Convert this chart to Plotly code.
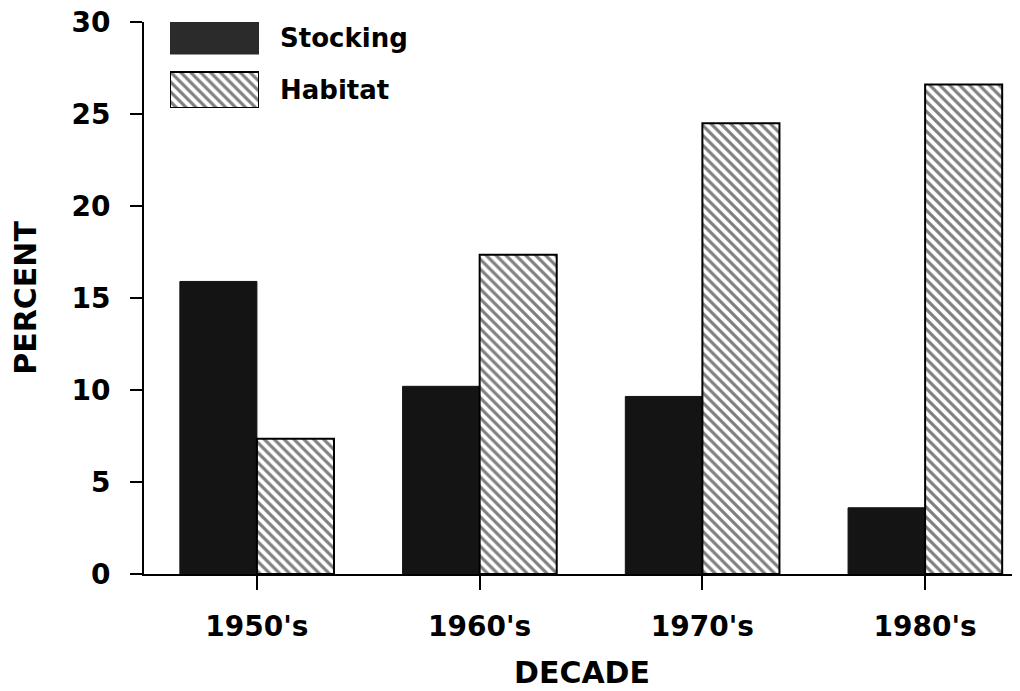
import plotly.graph_objects as go

decades = ["1950's", "1960's", "1970's", "1980's"]
stocking = [15.9, 10.2, 9.65, 3.6]
habitat = [7.35, 17.35, 24.5, 26.6]
series_names = ["Stocking", "Habitat"]
y_ticks = [0, 5, 10, 15, 20, 25, 30]

FONT = "DejaVu Sans"
DARK = "#141414"
HATCH = dict(shape="\\", fgcolor="black", bgcolor="white", size=7, solidity=0.45)

fig = go.Figure()

fig.add_trace(go.Bar(
    x=decades, y=stocking, name=series_names[0],
    marker=dict(color=DARK, line=dict(color=DARK, width=1)),
    showlegend=False,
))
fig.add_trace(go.Bar(
    x=decades, y=habitat, name=series_names[1],
    marker=dict(color="white", line=dict(color="black", width=2), pattern=HATCH),
    showlegend=False,
))

# legend swatches drawn on a small inset axis, labelled by the series names
fig.add_trace(go.Bar(
    y=[series_names[0]], x=[1], orientation="h", width=0.615,
    marker=dict(color="#2b2b2b", line=dict(color="#2b2b2b", width=1)),
    xaxis="x2", yaxis="y2", showlegend=False, hoverinfo="skip",
))
fig.add_trace(go.Bar(
    y=[series_names[1]], x=[1], orientation="h", width=0.692,
    marker=dict(color="white", line=dict(color="black", width=2), pattern=HATCH),
    xaxis="x2", yaxis="y2", showlegend=False, hoverinfo="skip",
))

# page body has an 8px margin; compensate so the plot sits where the reference does
OFF = 8
W, H = 1020 - OFF, 691 - OFF
PL, PR, PT, PB = 144, 1020, 22, 574          # plot-area edges in window pixels
L, T = PL - OFF, PT - OFF
R = W - (PR - OFF)
B = H - (PB - OFF)
pw = PR - PL
ph = PB - PT

def px_x(p):
    return (p - PL) / pw

def px_y(p):
    return (PB - p) / ph

fig.update_layout(
    width=W, height=H,
    margin=dict(l=L, r=R, t=T, b=B, autoexpand=False),
    paper_bgcolor="white", plot_bgcolor="white",
    barmode="group", bargap=0.308, bargroupgap=0,
    font=dict(family=FONT, color="black", size=28, weight="bold"),
    xaxis=dict(
        range=[-0.507, 3.426], automargin=False,
        showline=True, linecolor="black", linewidth=2,
        ticks="outside", ticklen=14, tickwidth=2, tickcolor="black",
        showgrid=False, zeroline=False,
        tickfont=dict(family=FONT, size=28, weight="bold"),
        ticklabelstandoff=12, ticklabeloverflow="allow",
        title=dict(text="DECADE", font=dict(family=FONT, size=30, weight="bold"),
                   standoff=20),
    ),
    yaxis=dict(
        range=[0, 30], automargin=False,
        tickvals=y_ticks,
        showline=True, linecolor="black", linewidth=2,
        ticks="outside", ticklen=12, tickwidth=2, tickcolor="black",
        showgrid=False, zeroline=False,
        tickfont=dict(family=FONT, size=28, weight="bold"),
        ticklabelstandoff=14, ticklabeloverflow="allow",
        title=dict(text="PERCENT", font=dict(family=FONT, size=30, weight="bold"),
                   standoff=36),
    ),
    xaxis2=dict(
        domain=[px_x(170), px_x(259)], range=[0, 1],
        anchor="y2", visible=False, fixedrange=True,
    ),
    yaxis2=dict(
        domain=[px_y(108), 1.0], range=[-0.346, 1.308],
        anchor="x2", side="right", automargin=False,
        categoryorder="array", categoryarray=[series_names[1], series_names[0]],
        showline=False, showgrid=False, zeroline=False, ticks="",
        tickfont=dict(family=FONT, size=26, weight="bold"),
        ticklabelstandoff=20, fixedrange=True,
    ),
)

fig.write_html("out.html")
